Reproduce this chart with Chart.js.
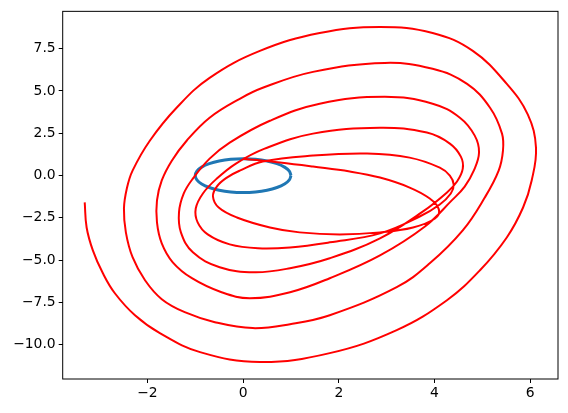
<!DOCTYPE html>
<html>
<head>
<meta charset="utf-8">
<script src="https://cdn.jsdelivr.net/npm/chart.js@4/dist/chart.umd.min.js"></script>
<style>
    html, body { margin: 0; padding: 0; background: #fff; }
    #wrap { width: 568px; height: 413px; }
</style>
</head>
<body>
<div id="wrap"><canvas id="chart" width="568" height="413"></canvas></div>
<script>
// --- Data ---------------------------------------------------------------

// Red trajectory, in drawing order (starts at (0, 1), ends at the far left)
const spiralX = [
    0.00, 0.77, 1.46, 2.23, 2.86, 3.48, 3.90, 4.09, 4.01, 3.55, 2.86, 2.02, 1.18, 0.56, -0.13, -0.51,
    -0.63, -0.55, -0.34, -0.07, 0.41, 1.46, 2.59, 3.48, 4.11, 4.32, 4.40, 4.34, 4.11, 3.69, 2.86, 1.81, 0.98,
    0.31, -0.28, -0.74, -0.95, -0.99, -0.84, -0.55, -0.15, 0.45, 1.46, 2.86, 3.84, 4.32, 4.55, 4.59, 4.47,
    4.26, 3.76, 2.86, 1.81, 0.98, 0.24, -0.49, -1.05, -1.30, -1.34, -1.24, -1.05, -0.70, -0.28, 0.56, 1.60,
    2.96, 3.96, 4.53, 4.84, 4.93, 4.82, 4.63, 4.36, 3.80, 2.86, 1.81, 0.98, 0.14, -0.45, -1.07, -1.47,
    -1.70, -1.80, -1.80, -1.70, -1.49, -1.18, -0.70, -0.07, 0.41, 1.46, 2.96, 3.96, 4.68, 5.16, 5.41, 5.43,
    5.34, 5.05, 4.59, 3.90, 3.21, 1.81, 0.98, 0.20, -0.59, -1.22, -1.70, -2.05, -2.31, -2.45, -2.49, -2.43,
    -2.31, -1.95, -1.39, -0.70, 0.35, 1.60, 2.86, 3.96, 4.80, 5.51, 5.95, 6.12, 6.03, 5.85, 5.51, 4.95,
    4.26, 3.21, 1.81, 0.35, -0.90, -1.74, -2.26, -2.68, -2.93, -3.14, -3.27, -3.31,
];
const spiralY = [
    1.00, 0.77, 0.53, 0.24, -0.12, -0.71, -1.36, -2.00, -2.54, -3.07, -3.36, -3.48, -3.36, -3.07, -2.48, -1.89,
    -1.24, -0.65, -0.12, 0.29, 0.83, 1.18, 1.30, 1.06, 0.47, 0.00, -0.53, -1.06, -1.71, -2.42, -3.42, -3.95, -4.25,
    -4.30, -4.07, -3.48, -2.77, -1.95, -1.06, -0.18, 0.71, 1.59, 2.48, 2.83, 2.54, 1.89, 1.12, 0.41, -0.35,
    -1.00, -2.12, -3.71, -4.89, -5.48, -5.72, -5.42, -4.54, -3.36, -2.18, -1.06, -0.18, 1.00, 1.95, 3.24, 4.25,
    4.66, 4.25, 3.42, 2.36, 1.36, 0.29, -0.65, -1.47, -3.01, -4.72, -6.07, -6.90, -7.25, -6.90, -6.07, -5.13,
    -4.01, -2.77, -1.47, -0.29, 0.88, 2.06, 3.42, 4.54, 5.19, 6.13, 6.66, 6.31, 5.42, 4.01, 2.48, 1.47,
    0.29, -1.30, -3.24, -5.19, -6.60, -8.26, -8.79, -9.02, -8.67, -8.08, -7.31, -6.19, -4.83, -3.36, -1.95, -0.77,
    0.29, 2.06, 4.01, 5.78, 7.37, 8.43, 8.79, 8.43, 7.37, 5.42, 3.60, 1.65, -0.29, -1.89, -3.66, -5.60,
    -7.37, -9.14, -10.50, -11.03, -10.44, -9.32, -8.26, -6.96, -5.78, -4.42, -3.07, -1.59,
];

// Blue unit circle
const circleX = [1, 0.966, 0.866, 0.707, 0.5, 0.259, 0, -0.259, -0.5, -0.707, -0.866, -0.966, -1,
    -0.966, -0.866, -0.707, -0.5, -0.259, 0, 0.259, 0.5, 0.707, 0.866, 0.966, 1];
const circleY = [0, 0.259, 0.5, 0.707, 0.866, 0.966, 1, 0.966, 0.866, 0.707, 0.5, 0.259, 0,
    -0.259, -0.5, -0.707, -0.866, -0.966, -1, -0.966, -0.866, -0.707, -0.5, -0.259, 0];

// Axis ticks
const xTicks = [-2, 0, 2, 4, 6];
const yTicks = [-10, -7.5, -5, -2.5, 0, 2.5, 5, 7.5];

// --- Helpers -------------------------------------------------------------

const toPoints = (xs, ys) => xs.map((x, i) => ({ x, y: ys[i] }));
const minus = (s) => s.replace('-', '\u2212');

// matplotlib-style box around the plot area
const frame = {
    id: 'frame',
    afterDraw(chart) {
        const { ctx, chartArea: a } = chart;
        ctx.save();
        ctx.strokeStyle = '#000';
        ctx.lineWidth = 1;
        ctx.strokeRect(a.left, a.top, a.right - a.left, a.bottom - a.top);
        ctx.restore();
    },
};

const tickFont = { family: 'DejaVu Sans', size: 13.9 };

new Chart(document.getElementById('chart'), {
    type: 'scatter',
    data: {
        datasets: [
            {
                data: toPoints(spiralX, spiralY),
                showLine: true,
                borderColor: '#ff0000',
                borderWidth: 2,
                pointRadius: 0,
                tension: 0.4,
                order: 0,
            },
            {
                data: toPoints(circleX, circleY),
                showLine: true,
                borderColor: '#1f77b4',
                borderWidth: 3,
                pointRadius: 0,
                tension: 0.4,
                order: 1,
            },
        ],
    },
    options: {
        responsive: false,
        animation: false,
        layout: { padding: { top: 10, right: 10, left: 0, bottom: 0 } },
        plugins: { legend: { display: false }, tooltip: { enabled: false } },
        scales: {
            x: {
                type: 'linear',
                min: -3.77,
                max: 6.58,
                afterBuildTicks: (s) => { s.ticks = xTicks.map((v) => ({ value: v })); },
                afterFit: (s) => { s.height = 34; },
                ticks: {
                    color: '#000',
                    font: tickFont,
                    padding: 2,
                    maxRotation: 0,
                    callback: (v) => minus(String(v)),
                },
                grid: { drawOnChartArea: false, drawTicks: true, tickLength: 4, tickColor: '#000' },
                border: { display: false },
            },
            y: {
                type: 'linear',
                min: -12.03,
                max: 9.71,
                afterBuildTicks: (s) => { s.ticks = yTicks.map((v) => ({ value: v })); },
                afterFit: (s) => { s.width = 62.7; },
                ticks: {
                    color: '#000',
                    font: tickFont,
                    padding: 3,
                    callback: (v) => minus(v.toFixed(1)),
                },
                grid: { drawOnChartArea: false, drawTicks: true, tickLength: 4, tickColor: '#000' },
                border: { display: false },
            },
        },
    },
    plugins: [frame],
});
</script>
</body>
</html>
